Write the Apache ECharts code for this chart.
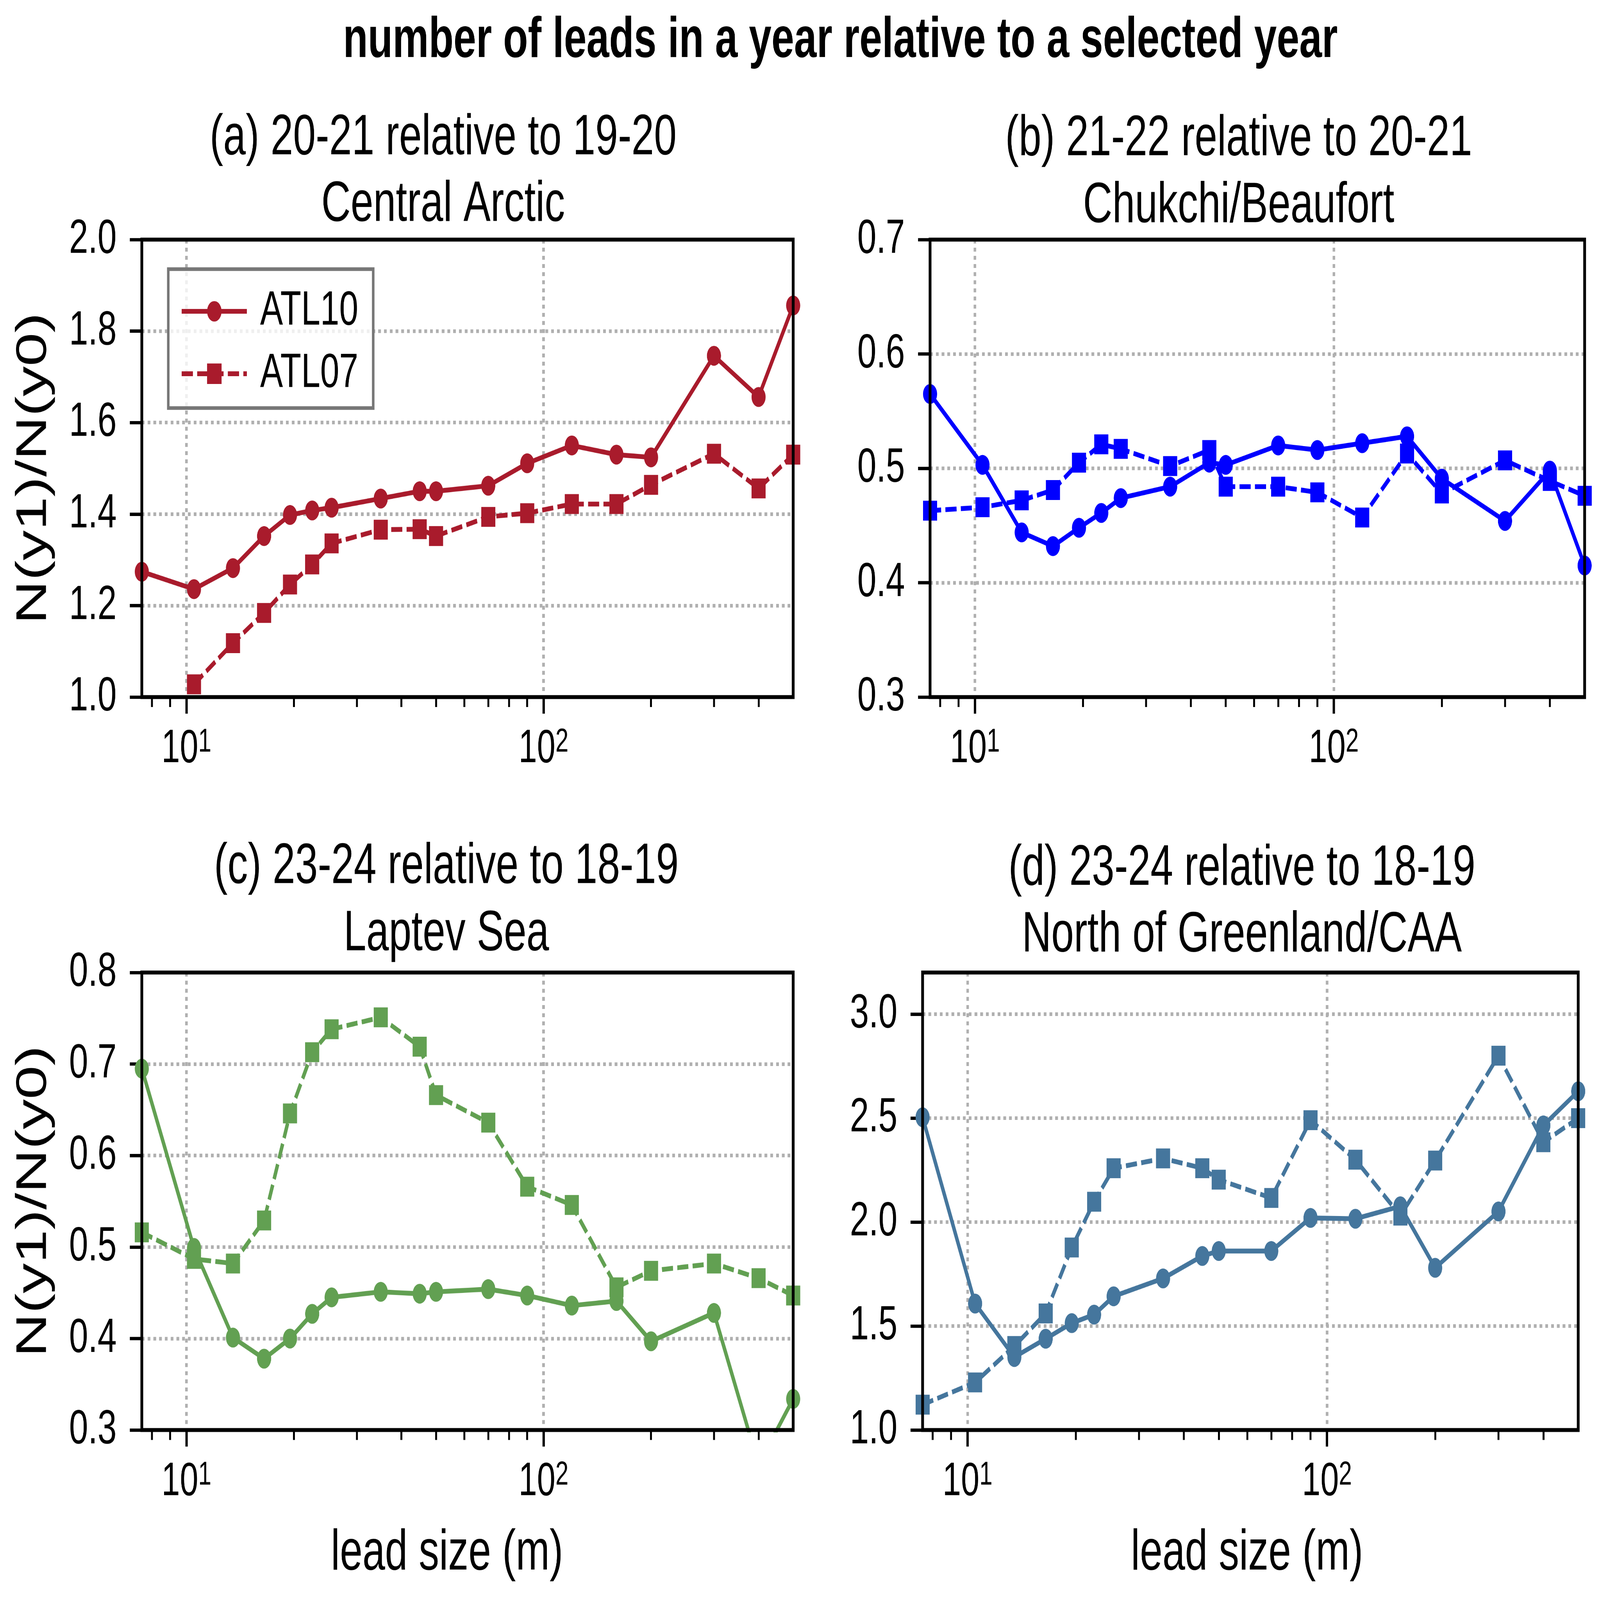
<!DOCTYPE html>
<html style="overflow: hidden">
<head>
    <meta charset="UTF-8">
    <title>number of leads in a year relative to a selected year</title>
    <script src="https://cdn.jsdelivr.net/npm/echarts@6/dist/echarts.min.js"></script>
</head>
<body style="margin: 0; background: #fff; overflow: hidden">
    <!-- the figure is laid out at 7492x5309 and scaled to whatever window it gets -->
    <div id="main" style="width: 7492px; height: 5309px; transform-origin: 0 0;"></div>
    <script>
        // lead size bins (m), shared by every panel
        var leadSize = [7.5, 10.5, 13.5, 16.5, 19.5, 22.5, 25.5, 35, 45, 50, 70, 90, 120, 160, 200, 300, 400, 500];

        // (a) Central Arctic
        var centralAtl10 = [1.274, 1.236, 1.282, 1.352, 1.398, 1.408, 1.414, 1.434, 1.450, 1.450, 1.462, 1.511, 1.550, 1.530, 1.524, 1.746, 1.656, 1.856];
        var centralAtl07 = [null, 1.028, 1.118, 1.184, 1.246, 1.290, 1.336, 1.366, 1.367, 1.352, 1.394, 1.402, 1.422, 1.422, 1.464, 1.532, 1.456, 1.530];
        // (b) Chukchi/Beaufort
        var chukchiAtl10 = [0.565, 0.503, 0.444, 0.432, 0.448, 0.461, 0.474, 0.484, 0.505, 0.503, 0.520, 0.516, 0.522, 0.528, 0.491, 0.454, 0.498, 0.415];
        var chukchiAtl07 = [0.463, 0.466, 0.472, 0.481, 0.505, 0.521, 0.517, 0.502, 0.516, 0.484, 0.484, 0.479, 0.457, 0.513, 0.478, 0.507, 0.489, 0.476];
        // (c) Laptev Sea
        var laptevAtl10 = [0.695, 0.499, 0.401, 0.378, 0.400, 0.427, 0.445, 0.451, 0.449, 0.451, 0.454, 0.447, 0.436, 0.441, 0.397, 0.428, 0.262, 0.334];
        var laptevAtl07 = [0.516, 0.487, 0.482, 0.529, 0.646, 0.713, 0.738, 0.751, 0.719, 0.666, 0.636, 0.566, 0.546, 0.456, 0.474, 0.482, 0.466, 0.447];
        // (d) North of Greenland/CAA
        var greenlandAtl10 = [2.504, 1.608, 1.351, 1.439, 1.514, 1.555, 1.643, 1.729, 1.837, 1.861, 1.861, 2.020, 2.016, 2.076, 1.780, 2.051, 2.465, 2.629];
        var greenlandAtl07 = [1.122, 1.229, 1.404, 1.561, 1.878, 2.098, 2.259, 2.306, 2.259, 2.204, 2.116, 2.490, 2.300, 2.031, 2.296, 2.800, 2.384, 2.500];

        // tick values
        var xMajorTicks = [10, 100];
        var xMinorTicks = [8, 9, 20, 30, 40, 50, 60, 70, 80, 90, 200, 300, 400];
        var yTicksA = [1.0, 1.2, 1.4, 1.6, 1.8, 2.0];
        var yTicksB = [0.3, 0.4, 0.5, 0.6, 0.7];
        var yTicksC = [0.3, 0.4, 0.5, 0.6, 0.7, 0.8];
        var yTicksD = [1.0, 1.5, 2.0, 2.5, 3.0];

        var mainTitle = 'number of leads in a year relative to a selected year';
        var panelTitles = ['(a) 20-21 relative to 19-20', '(b) 21-22 relative to 20-21',
                           '(c) 23-24 relative to 18-19', '(d) 23-24 relative to 18-19'];
        var regionNames = ['Central Arctic', 'Chukchi/Beaufort', 'Laptev Sea', 'North of Greenland/CAA'];
        var seriesNames = ['ATL10', 'ATL07'];
        var xName = 'lead size (m)';
        var yName = 'N(y1)/N(y0)';

        var FONT = 'Liberation Sans';

        var dom = document.getElementById('main');
        var sx = document.documentElement.clientWidth / 7492;
        var sy = document.documentElement.clientHeight / 5309;
        dom.style.transform = 'scale(' + sx + ',' + sy + ')';

        // panel boxes in figure pixels
        var panels = [
            { left: 664,  top: 795,  width: 3050, height: 1518, tx: 2075, ty: [460, 681],   xPad: 192, color: '#a91b2c', a10: centralAtl10,   a07: centralAtl07,   yMin: 1.0, yMax: 2.0, yTicks: yTicksA },
            { left: 4355, top: 795,  width: 3065, height: 1518, tx: 5800, ty: [463, 685],   xPad: 0,   color: '#0000ff', a10: chukchiAtl10,   a07: chukchiAtl07,   yMin: 0.3, yMax: 0.7, yTicks: yTicksB },
            { left: 664,  top: 3227, width: 3050, height: 1518, tx: 2090, ty: [2878, 3101], xPad: 192, color: '#62a052', a10: laptevAtl10,    a07: laptevAtl07,    yMin: 0.3, yMax: 0.8, yTicks: yTicksC },
            { left: 4320, top: 3227, width: 3070, height: 1518, tx: 5815, ty: [2884, 3105], xPad: 32,  color: '#45769d', a10: greenlandAtl10, a07: greenlandAtl07, yMin: 1.0, yMax: 3.2, yTicks: yTicksD }
        ];

        function pairs(xs, ys) {
            return xs.map(function (x, i) { return [x, ys[i]]; });
        }

        var gridLine = { color: '#b0b0b0', width: 12, type: [13, 14] };

        var grids = [], xAxes = [], yAxes = [], series = [];
        var titles = [{
            text: mainTitle, left: 3935, top: 137, textAlign: 'center', textVerticalAlign: 'middle', padding: 0,
            textStyle: { fontSize: 190, fontWeight: 'bold', fontFamily: FONT, color: '#000', lineHeight: 190 }
        }];

        panels.forEach(function (p, i) {
            var bottomRow = i >= 2, leftCol = i % 2 === 0;

            grids.push({
                left: p.left, top: p.top, width: p.width, height: p.height,
                outerBoundsMode: 'none', containLabel: false,
                show: true, z: 5, backgroundColor: 'transparent', borderColor: '#000', borderWidth: 13
            });

            [panelTitles[i], regionNames[i]].forEach(function (t, k) {
                titles.push({
                    text: t, left: p.tx, top: p.ty[k], textAlign: 'center', textVerticalAlign: 'middle', padding: 0,
                    textStyle: { fontSize: 190, fontWeight: 'normal', fontFamily: FONT, color: '#000', lineHeight: 190 }
                });
            });

            // major log axis: labels, long ticks, grid lines
            xAxes.push({
                gridIndex: i, type: 'log', logBase: 10, min: 7.5, max: 500, position: 'bottom',
                axisLine: { show: false },
                axisTick: { show: true, length: 55, customValues: xMajorTicks, lineStyle: { color: '#000', width: 11 } },
                axisLabel: {
                    customValues: xMajorTicks, margin: 96,
                    formatter: function (v) { return '{b|10}{s|' + Math.round(Math.log10(v)) + '}'; },
                    rich: {
                        b: { fontSize: 155, fontFamily: FONT, color: '#000', lineHeight: 155 },
                        s: { fontSize: 110, fontFamily: FONT, color: '#000', lineHeight: 70, verticalAlign: 'top' }
                    }
                },
                splitLine: { show: true, lineStyle: gridLine },
                name: bottomRow ? xName : '', nameLocation: 'middle', nameGap: 316,
                nameTextStyle: { fontSize: 190, fontFamily: FONT, color: '#000', lineHeight: 190, padding: [0, p.xPad, 0, 0] }
            });
            // minor log axis: short ticks only
            xAxes.push({
                gridIndex: i, type: 'log', logBase: 10, min: 7.5, max: 500, position: 'bottom',
                axisLine: { show: false },
                axisTick: { show: true, length: 33, customValues: xMinorTicks, lineStyle: { color: '#000', width: 9 } },
                axisLabel: { show: false },
                splitLine: { show: false }
            });

            yAxes.push({
                gridIndex: i, type: 'value', min: p.yMin, max: p.yMax,
                axisLine: { show: false },
                axisTick: { show: true, length: 56, customValues: p.yTicks, lineStyle: { color: '#000', width: 11 } },
                axisLabel: {
                    customValues: p.yTicks, margin: 118, fontSize: 160, fontFamily: FONT, color: '#000',
                    formatter: function (v) { return v.toFixed(1); }
                },
                splitLine: { show: true, lineStyle: gridLine },
                name: leftCol ? yName : '', nameLocation: 'middle', nameGap: 404,
                nameTextStyle: { fontSize: 200, fontFamily: FONT, color: '#000', lineHeight: 200 }
            });

            var suffix = i === 0 ? '' : ' ' + 'abcd'[i];
            series.push({
                type: 'line', name: seriesNames[0] + suffix, xAxisIndex: 2 * i, yAxisIndex: i,
                data: pairs(leadSize, p.a10),
                symbol: 'circle', symbolSize: 66, clip: true,
                lineStyle: { color: p.color, width: 16, type: 'solid' },
                itemStyle: { color: p.color }
            });
            series.push({
                type: 'line', name: seriesNames[1] + suffix, xAxisIndex: 2 * i, yAxisIndex: i,
                data: pairs(leadSize, p.a07),
                symbol: 'rect', symbolSize: 66, clip: true,
                lineStyle: { color: p.color, width: 16, type: [52, 20] },
                itemStyle: { color: p.color }
            });
        });

        var myChart = echarts.init(dom);
        myChart.setOption({
            animation: false,
            backgroundColor: '#fff',
            title: titles,
            legend: {
                data: seriesNames, orient: 'vertical', left: 788, top: 893,
                padding: [60, 70, 34, 55], itemWidth: 305, itemHeight: 85, itemGap: 47,
                backgroundColor: 'rgba(255,255,255,0.8)', borderColor: '#777', borderWidth: 12, borderRadius: 0,
                selectedMode: false, z: 6,
                lineStyle: { width: 16 },
                textStyle: { fontSize: 160, fontFamily: FONT, color: '#000', padding: [0, 0, 0, 57] }
            },
            grid: grids,
            xAxis: xAxes,
            yAxis: yAxes,
            series: series
        });
    </script>
</body>
</html>
